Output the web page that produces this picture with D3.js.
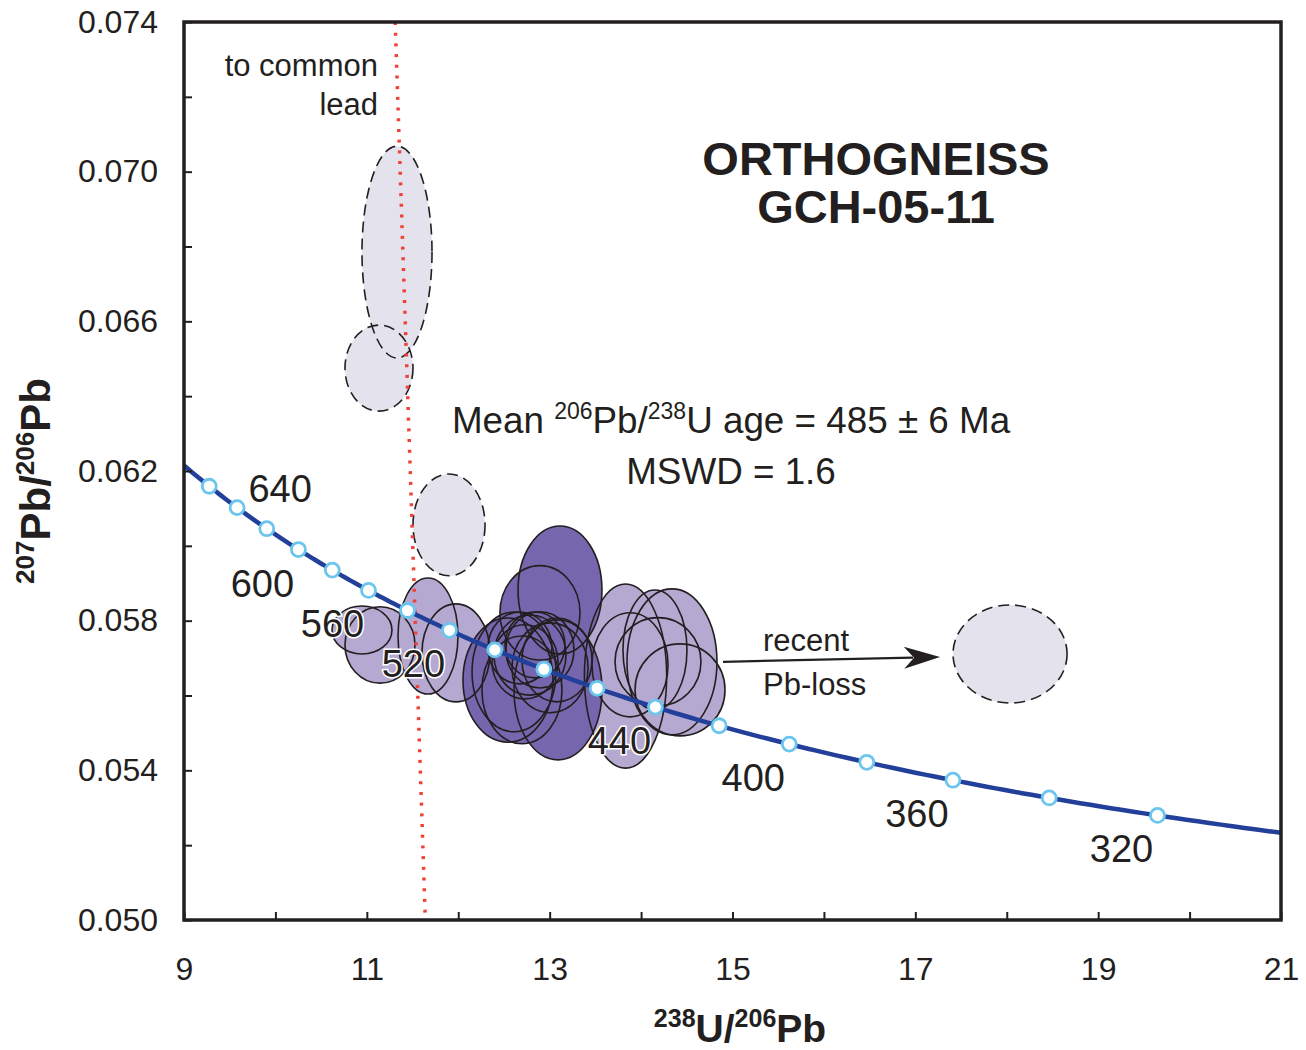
<!DOCTYPE html>
<html>
<head>
<meta charset="utf-8">
<script src="https://cdn.jsdelivr.net/npm/d3@7"></script>
<style>
  html, body { margin: 0; padding: 0; background: #fff; }
  svg { display: block; font-family: "Liberation Sans", Arial, Helvetica, sans-serif; }
</style>
</head>
<body>
<svg id="chart" width="1306" height="1050"></svg>
<script>
// Tera-Wasserburg concordia, orthogneiss GCH-05-11
// Spot ellipses: [238U/206Pb, 207Pb/206Pb, half-width (x), half-height (y)]
const commonLeadSpots = [
  [11.330, 0.06785, 0.383, 0.00283],
  [11.133, 0.06475, 0.372, 0.00115],
  [11.899, 0.06056, 0.394, 0.00136],
  [18.036, 0.05711, 0.624, 0.00131]
];
const discordantSpots = [
  [10.947, 0.05775, 0.328, 0.00064],
  [11.144, 0.05735, 0.383, 0.00102],
  [11.669, 0.05759, 0.328, 0.00155],
  [11.975, 0.05714, 0.372, 0.00131],
  [13.830, 0.05652, 0.450, 0.00246],
  [14.338, 0.05690, 0.492, 0.00195],
  [13.879, 0.05682, 0.416, 0.00139],
  [14.185, 0.05690, 0.470, 0.00118],
  [14.426, 0.05615, 0.492, 0.00123],
  [14.152, 0.05722, 0.350, 0.00160]
];
const concordantSpots = [
  [13.113, 0.05882, 0.459, 0.00171],
  [12.894, 0.05821, 0.438, 0.00126],
  [13.091, 0.05615, 0.481, 0.00187],
  [12.544, 0.05641, 0.492, 0.00166],
  [12.610, 0.05663, 0.459, 0.00160],
  [12.697, 0.05615, 0.438, 0.00144],
  [12.785, 0.05708, 0.394, 0.00107],
  [12.894, 0.05722, 0.372, 0.00102],
  [12.730, 0.05690, 0.361, 0.00099],
  [13.004, 0.05674, 0.416, 0.00120],
  [13.080, 0.05695, 0.383, 0.00112],
  [12.675, 0.05727, 0.350, 0.00096],
  [12.840, 0.05735, 0.328, 0.00088]
];
// Concordia age marks (Ma) and the ones that carry a label
const markerAges = [320, 340, 360, 380, 400, 420, 440, 460, 480, 500, 520, 540, 560, 580, 600, 620, 640, 660];
const labelAges = [640, 600, 560, 520, 440, 400, 360, 320];
// Axis ticks
const xTicks = [9, 10, 11, 12, 13, 14, 15, 16, 17, 18, 19, 20, 21];
const xLabels = [9, 11, 13, 15, 17, 19, 21];
const yTicks = [0.050, 0.052, 0.054, 0.056, 0.058, 0.060, 0.062, 0.064, 0.066, 0.068, 0.070, 0.072, 0.074];
const yLabels = [0.050, 0.054, 0.058, 0.062, 0.066, 0.070, 0.074];
// Common-lead trajectory and Pb-loss arrow, in data units
const commonLeadLine = [[11.31, 0.074], [11.64, 0.050]];
const pbLossArrow = [[14.896, 0.05690], [17.27, 0.05703]];

// Decay constants (per Ma) and present-day 238U/235U
const LAMBDA238 = 1.55125e-4;
const LAMBDA235 = 9.8485e-4;
const U238_U235 = 137.88;

function concordia(t) {
  const e238 = Math.exp(LAMBDA238 * t) - 1;
  const e235 = Math.exp(LAMBDA235 * t) - 1;
  return [1 / e238, e235 / e238 / U238_U235];
}

const svg = d3.select("#chart");
const ink = "#231f20";
const margin = { left: 184, top: 22, right: 1281, bottom: 920 };

const x = d3.scaleLinear().domain([9, 21]).range([margin.left, margin.right]);
const y = d3.scaleLinear().domain([0.050, 0.074]).range([margin.bottom, margin.top]);

svg.append("defs").append("clipPath").attr("id", "plot")
  .append("rect")
  .attr("x", margin.left).attr("y", margin.top)
  .attr("width", margin.right - margin.left).attr("height", margin.bottom - margin.top);

const plot = svg.append("g").attr("clip-path", "url(#plot)");

// ellipse helper
function ellipseAttrs(sel) {
  sel.attr("cx", d => x(d[0]))
    .attr("cy", d => y(d[1]))
    .attr("rx", d => x(d[0] + d[2]) - x(d[0]))
    .attr("ry", d => y(d[1]) - y(d[1] + d[3]));
}

// fills first, outlines afterwards so every outline stays visible
const fills = plot.append("g");
fills.selectAll(".cl").data(commonLeadSpots).join("ellipse").call(ellipseAttrs).attr("fill", "#e4e2ec");
fills.selectAll(".dc").data(discordantSpots).join("ellipse").call(ellipseAttrs).attr("fill", "#b5a9d1");
fills.selectAll(".cc").data(concordantSpots).join("ellipse").call(ellipseAttrs).attr("fill", "#7566ad");

const outlines = plot.append("g").attr("fill", "none").attr("stroke", ink).attr("stroke-width", 1.6);
outlines.selectAll(".cl").data(commonLeadSpots).join("ellipse").call(ellipseAttrs)
  .attr("stroke-dasharray", "11,6");
outlines.selectAll(".dc").data(discordantSpots).join("ellipse").call(ellipseAttrs);
outlines.selectAll(".cc").data(concordantSpots).join("ellipse").call(ellipseAttrs);

// common-lead trajectory (red dotted)
plot.append("path")
  .attr("d", d3.line().x(d => x(d[0])).y(d => y(d[1]))(commonLeadLine))
  .attr("fill", "none")
  .attr("stroke", "#ef4136")
  .attr("stroke-width", 3.5)
  .attr("stroke-dasharray", "3,7.7");

// concordia curve
const tHigh = Math.log(1 + 1 / 9) / LAMBDA238;
const tLow = Math.log(1 + 1 / 21) / LAMBDA238;
const curveAges = d3.range(0, 201).map(i => tLow + (tHigh - tLow) * i / 200);
plot.append("path")
  .attr("d", d3.line().x(t => x(concordia(t)[0])).y(t => y(concordia(t)[1]))(curveAges))
  .attr("fill", "none")
  .attr("stroke", "#22409a")
  .attr("stroke-width", 4.5);

plot.selectAll(".mark").data(markerAges).join("circle")
  .attr("cx", t => x(concordia(t)[0]))
  .attr("cy", t => y(concordia(t)[1]))
  .attr("r", 7)
  .attr("fill", "#fff")
  .attr("stroke", "#6cc5ec")
  .attr("stroke-width", 2.8);

// age labels with white halo
svg.append("g").selectAll("text").data(labelAges).join("text")
  .attr("x", t => x(concordia(t)[0]) + (t === 640 ? 43 : -36))
  .attr("y", t => y(concordia(t)[1]) + (t === 640 ? -6 : 47))
  .attr("text-anchor", "middle")
  .attr("font-size", 38)
  .attr("fill", ink)
  .attr("stroke", "#fff")
  .attr("stroke-width", 3)
  .attr("paint-order", "stroke")
  .text(t => t);

// Pb-loss arrow
const [a0, a1] = pbLossArrow.map(p => [x(p[0]), y(p[1])]);
const ang = Math.atan2(a1[1] - a0[1], a1[0] - a0[0]);
const headLen = 31, headHalf = 11;
const base = [a1[0] - headLen * Math.cos(ang), a1[1] - headLen * Math.sin(ang)];
svg.append("line")
  .attr("x1", a0[0]).attr("y1", a0[1])
  .attr("x2", base[0] + 4 * Math.cos(ang)).attr("y2", base[1] + 4 * Math.sin(ang))
  .attr("stroke", ink).attr("stroke-width", 2.2);
svg.append("path")
  .attr("d", `M${a1[0]},${a1[1]}L${base[0] - headHalf * Math.sin(ang) - 5 * Math.cos(ang)},${base[1] + headHalf * Math.cos(ang)}L${base[0] + 5 * Math.cos(ang)},${base[1]}L${base[0] + headHalf * Math.sin(ang) - 5 * Math.cos(ang)},${base[1] - headHalf * Math.cos(ang)}Z`)
  .attr("fill", ink);

// axes
const xAxis = d3.axisBottom(x).tickValues(xTicks).tickSize(-8).tickPadding(37)
  .tickFormat(d => xLabels.includes(d) ? d : "");
const gx = svg.append("g").attr("transform", `translate(0,${margin.bottom})`).call(xAxis);
const yAxis = d3.axisLeft(y).tickValues(yTicks).tickSize(-8).tickPadding(26)
  .tickFormat(d => yLabels.some(v => Math.abs(v - d) < 1e-9) ? d3.format(".3f")(d) : "");
const gy = svg.append("g").attr("transform", `translate(${margin.left},0)`).call(yAxis);
[gx, gy].forEach(g => {
  g.select(".domain").remove();
  g.selectAll(".tick line").attr("stroke", ink).attr("stroke-width", 2);
  g.selectAll(".tick text").attr("fill", ink).attr("font-size", 32)
    .attr("font-family", "'Liberation Sans', Arial, sans-serif");
});

// frame
svg.append("rect")
  .attr("x", margin.left).attr("y", margin.top)
  .attr("width", margin.right - margin.left).attr("height", margin.bottom - margin.top)
  .attr("fill", "none").attr("stroke", ink).attr("stroke-width", 3.5);

// axis titles
const xt = svg.append("text").attr("x", 740).attr("y", 1042).attr("text-anchor", "middle")
  .attr("font-size", 39).attr("font-weight", "bold").attr("fill", ink);
xt.append("tspan").attr("font-size", 25).attr("dy", -15).text("238");
xt.append("tspan").attr("dy", 15).text("U/");
xt.append("tspan").attr("font-size", 25).attr("dy", -15).text("206");
xt.append("tspan").attr("dy", 15).text("Pb");

const yt = svg.append("text").attr("transform", "translate(50,481) rotate(-90)").attr("text-anchor", "middle")
  .attr("font-size", 42).attr("font-weight", "bold").attr("fill", ink);
yt.append("tspan").attr("font-size", 26).attr("dy", -16).text("207");
yt.append("tspan").attr("dy", 16).text("Pb/");
yt.append("tspan").attr("font-size", 26).attr("dy", -16).text("206");
yt.append("tspan").attr("dy", 16).text("Pb");

// title
const title = svg.append("g").attr("font-size", 47).attr("font-weight", "bold").attr("fill", ink).attr("text-anchor", "middle");
title.append("text").attr("x", 876).attr("y", 175).text("ORTHOGNEISS");
title.append("text").attr("x", 876).attr("y", 223).text("GCH-05-11");

// age statement
const mean = svg.append("text").attr("x", 731).attr("y", 433).attr("text-anchor", "middle")
  .attr("font-size", 36.8).attr("fill", ink);
mean.append("tspan").text("Mean ");
mean.append("tspan").attr("font-size", 23).attr("dy", -14).text("206");
mean.append("tspan").attr("dy", 14).text("Pb/");
mean.append("tspan").attr("font-size", 23).attr("dy", -14).text("238");
mean.append("tspan").attr("dy", 14).text("U age = 485 ± 6 Ma");
svg.append("text").attr("x", 731).attr("y", 484).attr("text-anchor", "middle")
  .attr("font-size", 36.8).attr("fill", ink).text("MSWD = 1.6");

// annotations
const note = svg.append("g").attr("font-size", 31).attr("fill", ink);
note.append("text").attr("x", 378).attr("y", 76).attr("text-anchor", "end").text("to common");
note.append("text").attr("x", 378).attr("y", 115).attr("text-anchor", "end").text("lead");
note.append("text").attr("x", 763).attr("y", 651).text("recent");
note.append("text").attr("x", 763).attr("y", 695).text("Pb-loss");
</script>
</body>
</html>
